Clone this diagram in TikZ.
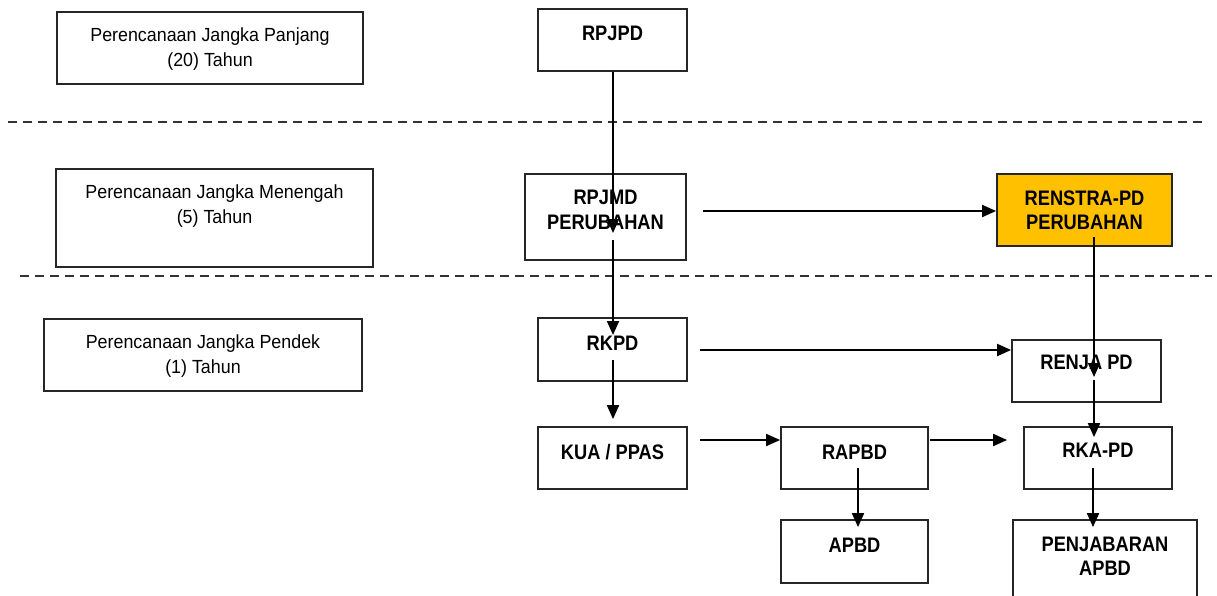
\documentclass[tikz,border=0pt]{standalone}
\usepackage{fontspec}
\setmainfont{Liberation Sans}
\newfontfamily\regf{Liberation Sans}[FakeStretch=0.94]
\newfontfamily\boldf{Liberation Sans}[FakeStretch=0.87]
\usetikzlibrary{arrows.meta,calc}
\definecolor{renstra}{HTML}{FFC000}
\tikzset{
  box/.style={draw=black!85, line width=1.8pt, inner sep=0pt},
  reg/.style={font=\regf\fontsize{19}{25}\selectfont, align=center, inner sep=0pt},
  bld/.style={font=\boldf\bfseries\fontsize{21}{24.5}\selectfont, align=center, inner sep=0pt},
  arr/.style={line width=1.9pt, draw=black, -{Triangle[length=14pt,width=12pt]}},
  sep/.style={line width=1.7pt, draw=black!80, dash pattern=on 9pt off 6pt}
}
\begin{document}
\begin{tikzpicture}[x=1pt,y=-1pt]
\useasboundingbox (0,0) rectangle (1217,595);
\clip (0,0) rectangle (1217,595);
\fill[white] (0,0) rectangle (1217,595);

% separators
\coordinate (s1a) at (8,122);
\coordinate (s1b) at (1207,122);
\coordinate (s2a) at (20,276);
\coordinate (s2b) at (1212,276);
\draw[sep] (s1a) -- (s1b);
\draw[sep] (s2a) -- (s2b);

% left boxes
\node[box, minimum width=306pt, minimum height=72pt] (l1) at (210,48) {};
\node[reg] (tl1) at (210,49.5) {Perencanaan Jangka Panjang\\(20) Tahun};
\node[box, minimum width=317pt, minimum height=98pt] (l2) at (214.5,218) {};
\node[reg] (tl2) at (214.5,206) {Perencanaan Jangka Menengah\\(5) Tahun};
\node[box, minimum width=318pt, minimum height=72pt] (l3) at (203,355) {};
\node[reg] (tl3) at (203,356) {Perencanaan Jangka Pendek\\(1) Tahun};

% main boxes
\node[box, minimum width=149pt, minimum height=62pt] (rpjpd) at (612.5,40) {};
\node[bld] (trpjpd) at (612.5,33) {RPJPD};
\node[box, minimum width=161pt, minimum height=86pt] (rpjmd) at (605.5,217) {};
\node[bld] (trpjmd) at (605.5,210) {RPJMD\\PERUBAHAN};
\node[box, fill=renstra, minimum width=175pt, minimum height=72pt] (renstra) at (1084.5,210) {};
\node[bld] (trenstra) at (1084.5,210.5) {RENSTRA-PD\\PERUBAHAN};
\node[box, minimum width=149pt, minimum height=63pt] (rkpd) at (612.5,349.5) {};
\node[bld] (trkpd) at (612.5,343) {RKPD};
\node[box, minimum width=149pt, minimum height=62pt] (renja) at (1086.5,371) {};
\node[bld] (trenja) at (1086.5,362) {RENJA PD};
\node[box, minimum width=149pt, minimum height=62pt] (kua) at (612.5,458) {};
\node[bld] (tkua) at (612.5,452) {KUA / PPAS};
\node[box, minimum width=147pt, minimum height=62pt] (rapbd) at (854.5,458) {};
\node[bld] (trapbd) at (854.5,452) {RAPBD};
\node[box, minimum width=148pt, minimum height=62pt] (rka) at (1098,458) {};
\node[bld] (trka) at (1098,450) {RKA-PD};
\node[box, minimum width=147pt, minimum height=63pt] (apbd) at (854.5,551.5) {};
\node[bld] (tapbd) at (854.5,545) {APBD};
\node[box, minimum width=184pt, minimum height=84pt] (penj) at (1105,562) {};
\node[bld] (tpenj) at (1105,556.5) {PENJABARAN\\APBD};

% connectors
\draw[arr] (rpjpd.south -| 613,0) -- (613,233);
\draw[arr] (613,240) -- (613,335);
\draw[arr] (613,360) -- ($(kua.north -| 613,0)+(0,-7)$);
\draw[arr] (703,211) -- (renstra.west |- 0,211);
\draw[arr] (700,350) -- (renja.west |- 0,350);
\draw[arr] (700,440) -- (rapbd.west |- 0,440);
\draw[arr] (930,440) -- ($(rka.west |- 0,440)+(-16,0)$);
\draw[arr] (858,468) -- ($(apbd.north -| 858,0)+(0,8)$);
\draw[arr] (1094,237) -- (1094,377);
\draw[arr] (1094,380) -- ($(rka.north -| 1094,0)+(0,11)$);
\draw[arr] (1093,468) -- ($(penj.north -| 1093,0)+(0,8)$);
\end{tikzpicture}
\end{document}
